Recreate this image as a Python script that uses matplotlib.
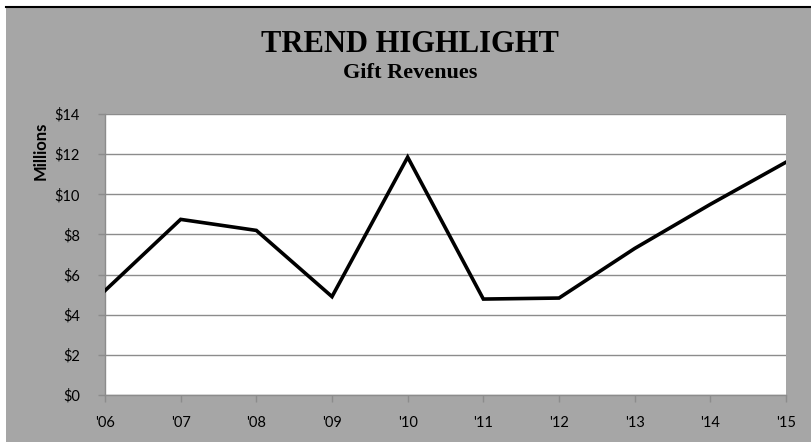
import matplotlib
matplotlib.use("Agg")
import matplotlib.pyplot as plt
from matplotlib.patches import Rectangle
from matplotlib.ticker import FuncFormatter

# Gift revenues, millions of dollars
years = ["'06", "'07", "'08", "'09", "'10", "'11", "'12", "'13", "'14", "'15"]
revenue = [5.2, 8.75, 8.2, 4.9, 11.85, 4.78, 4.83, 7.3, 9.5, 11.6]
y_ticks = [0, 2, 4, 6, 8, 10, 12, 14]

W, H = 812, 442
BG = "#a6a6a6"
GRID = "#8c8c8c"

fig = plt.figure(figsize=(W / 100, H / 100), dpi=100)
fig.patch.set_facecolor("white")

# gray panel with a black rule on top
fig.add_artist(Rectangle((6 / W, 0), (W - 6) / W, (H - 7) / H,
                         transform=fig.transFigure, facecolor=BG,
                         edgecolor="none", zorder=-1))
fig.add_artist(plt.Line2D([6 / W, 1], [(H - 6.5) / H, (H - 6.5) / H],
                          transform=fig.transFigure, color="black", lw=1.5))

ax = fig.add_axes([105 / W, (H - 395) / H, (786 - 105) / W, (395 - 114) / H])
ax.set_zorder(2)
ax.set_facecolor("white")

x = list(range(len(years)))
ax.plot(x, revenue, color="black", linewidth=2.6, solid_joinstyle="miter", zorder=3)

ax.set_xlim(0, len(years) - 1)
ax.set_ylim(0, 14)
ax.set_yticks(y_ticks)
ax.yaxis.set_major_formatter(FuncFormatter(lambda v, p: f"${v:.0f}"))
ax.set_xticks(x)
ax.set_xticklabels(years)
ax.grid(axis="y", color=GRID, linewidth=1)
ax.set_axisbelow(True)

for s in ["top", "right"]:
    ax.spines[s].set_visible(False)
for s in ["left", "bottom"]:
    ax.spines[s].set_color(GRID)
    ax.spines[s].set_linewidth(1)

ax.tick_params(axis="both", colors=GRID, length=5, width=1, labelcolor="black",
               labelsize=10.5)
ax.tick_params(axis="x", pad=10)
ax.tick_params(axis="y", pad=13)
for lbl in ax.get_xticklabels() + ax.get_yticklabels():
    lbl.set_family("Lato")

fig.text(410 / W, 1 - 52 / H, "TREND HIGHLIGHT", ha="center", va="baseline",
         family="Liberation Serif", fontweight="bold", fontsize=22)
fig.text(410 / W, 1 - 78 / H, "Gift Revenues", ha="center", va="baseline",
         family="Liberation Serif", fontweight="bold", fontsize=16)
fig.text(41 / W, 1 - 151 / H, "Millions", ha="center", va="center", rotation=90,
         family="Lato", fontweight="bold", fontsize=12)

fig.savefig("out.png", dpi=100, facecolor=fig.get_facecolor())
